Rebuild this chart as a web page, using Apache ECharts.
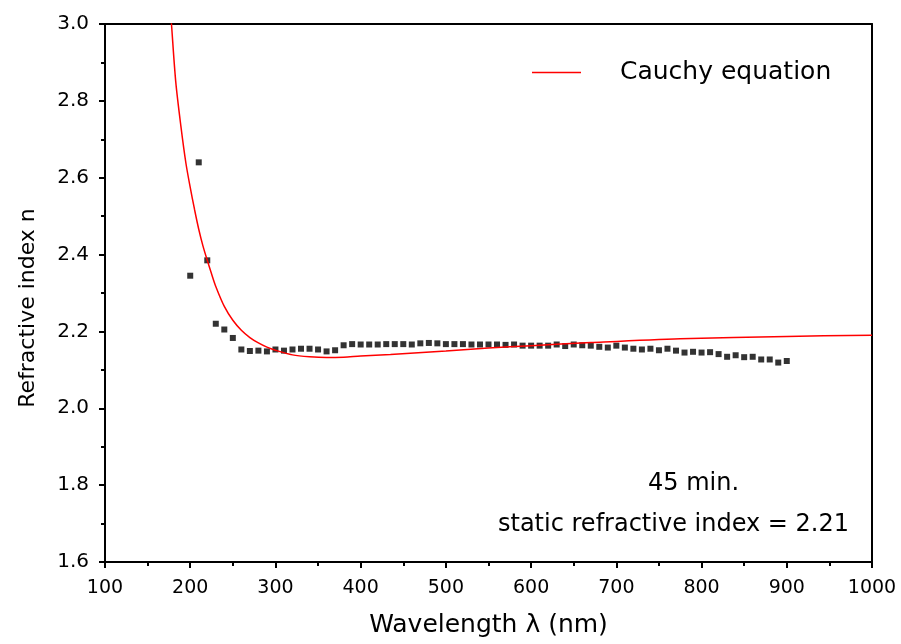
<!DOCTYPE html>
<html lang="en">
  <head>
    <meta charset="UTF-8" />
    <title>Refractive index vs wavelength</title>
    <script src="https://cdn.jsdelivr.net/npm/echarts/dist/echarts.min.js"></script>
    <style>
      html, body { margin: 0; padding: 0; background: #fff; }
      #main { width: 901px; height: 644px; }
    </style>
  </head>
  <body>
    <div id="main"></div>
    <script>
      // measured points (every 10 nm, 200..900)
      var wl = [];
      for (var w = 200; w <= 900; w += 10) wl.push(w);
      var nMeasured = [
        2.345, 2.64, 2.385, 2.22, 2.205, 2.183, 2.153, 2.149, 2.150, 2.148,
        2.153, 2.150, 2.153, 2.155, 2.155, 2.153, 2.148, 2.151, 2.164, 2.167,
        2.166, 2.166, 2.166, 2.167, 2.167, 2.167, 2.166, 2.169, 2.170, 2.169,
        2.167, 2.167, 2.167, 2.166, 2.166, 2.166, 2.166, 2.165, 2.166, 2.163,
        2.163, 2.163, 2.163, 2.166, 2.162, 2.166, 2.164, 2.163, 2.160, 2.158,
        2.163, 2.158, 2.155, 2.153, 2.155, 2.151, 2.155, 2.150, 2.145, 2.147,
        2.145, 2.146, 2.141, 2.134, 2.138, 2.133, 2.134, 2.127, 2.127, 2.119,
        2.123
      ];

      // Cauchy fit curve
      var cauchyX = [176, 178, 183, 189, 195, 200, 205, 210, 215, 220, 225, 230,
        240, 250, 260, 270, 280, 290, 300, 320, 340, 360, 380, 400, 435, 500,
        550, 600, 670, 775, 900, 1000];
      var cauchyY = [3.06, 3.0, 2.85, 2.735, 2.637, 2.575, 2.518, 2.466, 2.422,
        2.385, 2.35, 2.317, 2.265, 2.229, 2.203, 2.184, 2.17, 2.159, 2.151,
        2.139, 2.134, 2.132, 2.133, 2.136, 2.14, 2.149, 2.157, 2.163, 2.171,
        2.181, 2.187, 2.19];

      var xTicks = { min: 100, max: 1000, step: 100 };
      var yTicks = { min: 1.6, max: 3.0, step: 0.2 };

      var font = "DejaVu Sans, Arial, sans-serif";
      var chart = echarts.init(document.getElementById("main"));

      var axisLine = { show: true, lineStyle: { color: "#000", width: 2 } };

      chart.setOption({
        animation: false,
        grid: { left: 105, right: 29, top: 24, bottom: 82 },
        legend: {
          data: ["Cauchy equation"],
          left: 527,
          top: 55,
          icon: "rect",
          itemWidth: 49,
          itemHeight: 1.5,
          textStyle: {
            fontFamily: font,
            fontSize: 25,
            color: "#000",
            padding: [0, 0, 0, 34]
          }
        },
        xAxis: [
          {
            type: "value",
            min: xTicks.min,
            max: xTicks.max,
            interval: xTicks.step,
            name: "Wavelength λ (nm)",
            nameLocation: "middle",
            nameGap: 51,
            nameTextStyle: { fontFamily: font, fontSize: 25, color: "#000" },
            axisLine: axisLine,
            axisTick: { show: true, length: 6, lineStyle: { color: "#000", width: 2 } },
            minorTick: { show: true, splitNumber: 2, length: 4, lineStyle: { color: "#000", width: 2 } },
            axisLabel: {
              fontFamily: font,
              fontSize: 19,
              color: "#000",
              margin: 17,
              formatter: function (v) { return String(v); }
            },
            splitLine: { show: false }
          },
          {
            type: "value",
            position: "top",
            min: xTicks.min,
            max: xTicks.max,
            axisLine: axisLine,
            axisTick: { show: false },
            axisLabel: { show: false },
            splitLine: { show: false }
          }
        ],
        yAxis: [
          {
            type: "value",
            min: yTicks.min,
            max: yTicks.max,
            interval: yTicks.step,
            name: "Refractive index n",
            nameLocation: "middle",
            nameGap: 66,
            nameTextStyle: {
              fontFamily: font,
              fontSize: 22,
              color: "#000",
              padding: [0, 30, 0, 0]
            },
            axisLine: axisLine,
            axisTick: { show: true, length: 6, lineStyle: { color: "#000", width: 2 } },
            minorTick: { show: true, splitNumber: 2, length: 4, lineStyle: { color: "#000", width: 2 } },
            axisLabel: {
              fontFamily: font,
              fontSize: 20,
              color: "#000",
              margin: 16,
              formatter: function (v) { return v.toFixed(1); }
            },
            splitLine: { show: false }
          },
          {
            type: "value",
            position: "right",
            min: yTicks.min,
            max: yTicks.max,
            axisLine: axisLine,
            axisTick: { show: false },
            axisLabel: { show: false },
            splitLine: { show: false }
          }
        ],
        series: [
          {
            name: "measured",
            type: "scatter",
            symbol: "rect",
            symbolSize: 6,
            itemStyle: { color: "#000" },
            data: wl.map(function (x, i) { return [x, nMeasured[i]]; })
          },
          {
            name: "Cauchy equation",
            type: "line",
            smooth: 0.3,
            showSymbol: false,
            clip: true,
            itemStyle: { color: "#ff0000" },
            lineStyle: { color: "#ff0000", width: 1.5 },
            data: cauchyX.map(function (x, i) { return [x, cauchyY[i]]; })
          }
        ],
        graphic: [
          {
            type: "text",
            left: 648,
            top: 472,
            style: { text: "45 min.", fontFamily: font, fontSize: 24, fill: "#000" }
          },
          {
            type: "text",
            left: 498,
            top: 513,
            style: { text: "static refractive index = 2.21", fontFamily: font, fontSize: 24, fill: "#000" }
          }
        ]
      });
    </script>
  </body>
</html>
